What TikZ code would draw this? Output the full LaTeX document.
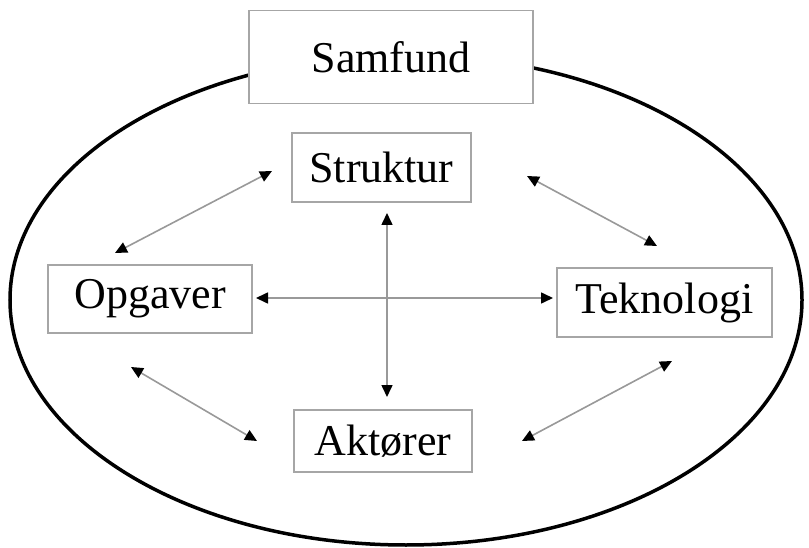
\documentclass[tikz,border=0pt]{standalone}
\usepackage{fontspec}
\setmainfont{Liberation Serif}
\usetikzlibrary{arrows.meta}
\begin{document}
\begin{tikzpicture}[x=1pt,y=-1pt,
  box/.style={draw=black!35,line width=1.3pt,fill=white,inner sep=0pt,font=\fontsize{44}{50}\selectfont},
  link/.style={draw=black!40,line width=1.6pt,{Triangle[length=12pt,width=11pt,color=black]}-{Triangle[length=12pt,width=11pt,color=black]}}]
\useasboundingbox (0,0) rectangle (809,548);
\draw[line width=3.5pt] (406,300) ellipse [x radius=396, y radius=245];
\node[box,minimum width=284pt,minimum height=93pt] (samf) at (391,57) {Samfund};
\node[box,minimum width=179pt,minimum height=69pt] (strk) at (381.5,167.5) {Struktur};
\node[box,minimum width=204pt,minimum height=68pt] (opg) at (150,299) {Opgaver};
\node[box,minimum width=215pt,minimum height=69pt] (tek) at (664.5,302.5) {Teknologi};
\node[box,minimum width=178pt,minimum height=62pt] (akt) at (383,441) {Aktører};
\coordinate (a1) at (272,171); \coordinate (a2) at (115,253);
\coordinate (b1) at (527,176); \coordinate (b2) at (657,246);
\coordinate (c1) at (131,367); \coordinate (c2) at (257,441);
\coordinate (d1) at (522,441); \coordinate (d2) at (672,361);
\coordinate (h1) at (256,298); \coordinate (h2) at (553,298);
\coordinate (v1) at (387,213); \coordinate (v2) at (387,397);
\draw[link] (a1) -- (a2);
\draw[link] (b1) -- (b2);
\draw[link] (c1) -- (c2);
\draw[link] (d1) -- (d2);
\draw[link] (h1) -- (h2);
\draw[link] (v1) -- (v2);
\end{tikzpicture}
\end{document}
